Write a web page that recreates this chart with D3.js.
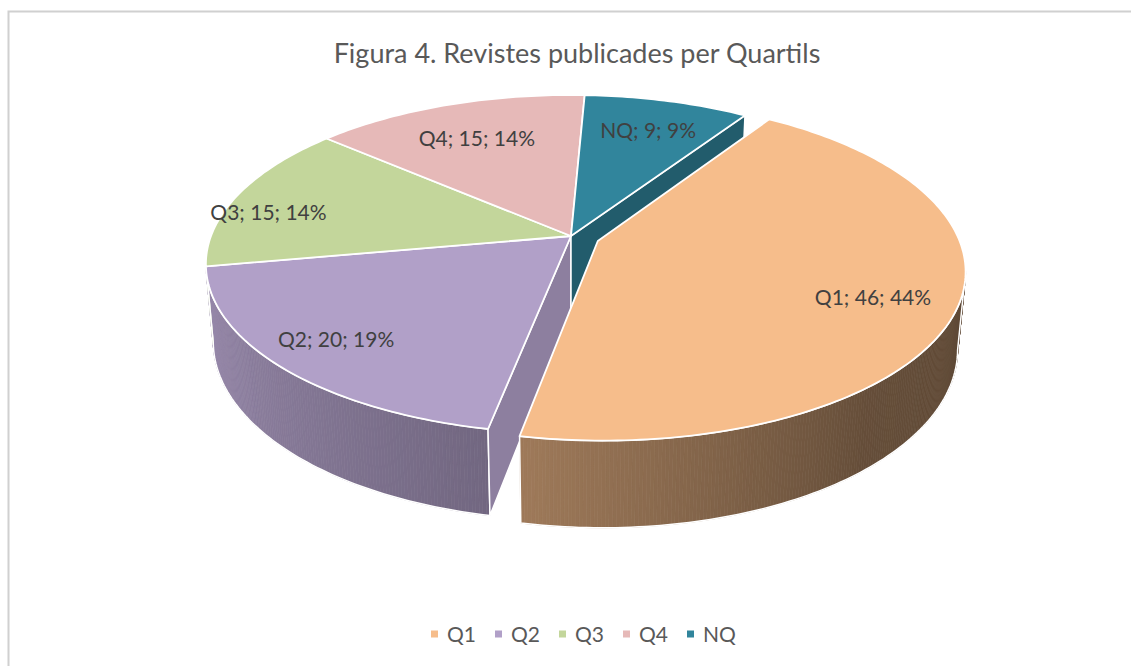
<!DOCTYPE html>
<html>
<head>
<meta charset="utf-8">
<script src="https://cdn.jsdelivr.net/npm/d3@7/dist/d3.min.js"></script>
<style>
  body { margin: 0; background: #fff; }
  text { font-family: Lato, "Open Sans", sans-serif; }
</style>
</head>
<body>
<div class="chart"></div>
<script>
// Figura 4 - 3D pie, revistes per quartil

var names = ["Q1", "Q2", "Q3", "Q4", "NQ"];
var values = [46, 20, 15, 15, 9];
var sliceColors = ["#f6bd8b", "#b1a0c8", "#c3d69b", "#e6b9b8", "#31859c"];
var explodeBy = [0.08, 0, 0, 0, 0];

var svgWidth = 1131;
var svgHeight = 666;

// perspective "camera" for the disc (fitted to the reference)
var view = { cx: 571, cy: 236, a: 360, b: 164.5, c: 78, p: 0.1667, q: 0.02 };
var firstAngle = 33.4 * Math.PI / 180;
var camZ = -1 / view.p;

var svg = d3.select(".chart")
  .append("svg")
  .attr("width", svgWidth)
  .attr("height", svgHeight);

// chart area frame
svg.append("rect")
  .attr("x", 8.5)
  .attr("y", 11.5)
  .attr("width", 1200)
  .attr("height", 700)
  .attr("fill", "none")
  .attr("stroke", "#d0d0d0")
  .attr("stroke-width", 2);

svg.append("text")
  .attr("x", 577)
  .attr("y", 63)
  .attr("text-anchor", "middle")
  .attr("font-size", 27)
  .attr("fill", "#595959")
  .text("Figura 4. Revistes publicades per Quartils");

var total = d3.sum(values);
var data = names.map((n, i) => ({ name: n, value: values[i], explode: explodeBy[i] }));

var pie = d3.pie()
  .sort(null)
  .value(d => d.value)
  .startAngle(firstAngle)
  .endAngle(firstAngle + 2 * Math.PI);

var arcs = pie(data);
arcs.forEach(function (d) {
  d.mid = (d.startAngle + d.endAngle) / 2;
  d.explode = d.data.explode;
  d.ox = d.explode * Math.sin(d.mid);
  d.oz = d.explode * Math.cos(d.mid);
});

var color = d3.scaleOrdinal().domain(names).range(sliceColors);

// brightness of the outer wall by direction of its normal (degrees clockwise from 12h)
var wallShade = d3.scaleLinear()
  .domain([90, 140, 190, 270])
  .range([0.37, 0.41, 0.64, 0.9])
  .clamp(true);

var faceShade = d3.scaleLinear()
  .domain([0.8, 1])
  .range([0.67, 0.81])
  .clamp(true);

function shadeColor(base, k) {
  var c = d3.rgb(base);
  return d3.rgb(c.r * k, c.g * k, c.b * k).formatHex();
}

function project(x, z, hb) {
  var w = 1 + view.p * z + view.q * hb;
  return [view.cx + view.a * x / w, view.cy - (view.b * z - view.c * hb) / w];
}

function discPoint(d, ang, r, hb) {
  return project(d.ox + r * Math.sin(ang), d.oz + r * Math.cos(ang), hb);
}

function arcPoints(d, a0, a1, r, hb) {
  var n = Math.max(2, Math.ceil(Math.abs(a1 - a0) / (Math.PI / 180)));
  var pts = [];
  for (var i = 0; i <= n; i++) pts.push(discPoint(d, a0 + (a1 - a0) * i / n, r, hb));
  return pts;
}

function toDeg(a) {
  var deg = a * 180 / Math.PI;
  return ((deg % 360) + 360) % 360;
}

// outer wall faces the camera?
function facesCamera(d, ang) {
  return (-d.ox) * Math.sin(ang) + (camZ - d.oz) * Math.cos(ang) > 1;
}

var line = d3.line();

function drawWalls(g, d) {
  var n = Math.max(2, Math.ceil((d.endAngle - d.startAngle) / (Math.PI / 360)));
  var quads = [];
  var va0 = null, va1 = null;
  for (var i = 0; i < n; i++) {
    var a0 = d.startAngle + (d.endAngle - d.startAngle) * i / n;
    var a1 = d.startAngle + (d.endAngle - d.startAngle) * (i + 1) / n;
    var am = (a0 + a1) / 2;
    if (!facesCamera(d, am)) continue;
    if (va0 === null) va0 = a0;
    va1 = a1;
    quads.push({
      z: Math.cos(am),
      fill: shadeColor(color(d.data.name), wallShade(toDeg(am))),
      pts: [discPoint(d, a0, 1, 0), discPoint(d, a1, 1, 0), discPoint(d, a1, 1, 1), discPoint(d, a0, 1, 1)]
    });
  }
  if (!quads.length) return;
  quads.sort((u, v) => v.z - u.z);
  g.selectAll(null)
    .data(quads)
    .enter()
    .append("path")
    .attr("d", q => line(q.pts) + "Z")
    .attr("fill", q => q.fill)
    .attr("stroke", q => q.fill)
    .attr("stroke-width", 0.7);

  var top = arcPoints(d, va0, va1, 1, 0);
  var bottom = arcPoints(d, va0, va1, 1, 1).reverse();
  g.append("path")
    .attr("d", line(top.concat(bottom)) + "Z")
    .attr("fill", "none")
    .attr("stroke", "#fff")
    .attr("stroke-width", 1.5)
    .attr("stroke-linejoin", "round");
}

function drawTop(g, d) {
  var pts = [discPoint(d, 0, 0, 0)].concat(arcPoints(d, d.startAngle, d.endAngle, 1, 0));
  g.append("path")
    .attr("d", line(pts) + "Z")
    .attr("fill", color(d.data.name))
    .attr("stroke", "#fff")
    .attr("stroke-width", 1.8)
    .attr("stroke-linejoin", "round");
}

// inner side of a still slice, seen through the gap left by an exploded neighbour
function drawRadialFace(g, d, ang, sign) {
  var nx = sign * Math.cos(ang);
  var nz = -sign * Math.sin(ang);
  if (nz >= 0) return;
  var pts = [discPoint(d, ang, 0, 0), discPoint(d, ang, 1, 0), discPoint(d, ang, 1, 1), discPoint(d, ang, 0, 1)];
  g.append("path")
    .attr("d", line(pts) + "Z")
    .attr("fill", shadeColor(color(d.data.name), faceShade(Math.abs(nx))))
    .attr("stroke", "#fff")
    .attr("stroke-width", 1.5)
    .attr("stroke-linejoin", "round");
}

var pieGroup = svg.append("g");
var still = arcs.filter(d => d.explode === 0);
var moved = arcs.filter(d => d.explode > 0);

still.forEach(d => drawWalls(pieGroup, d));

arcs.forEach(function (d, i) {
  if (d.explode > 0) return;
  var prev = arcs[(i + arcs.length - 1) % arcs.length];
  var next = arcs[(i + 1) % arcs.length];
  if (prev.explode > 0) drawRadialFace(pieGroup, d, d.startAngle, -1);
  if (next.explode > 0) drawRadialFace(pieGroup, d, d.endAngle, 1);
});

still.forEach(d => drawTop(pieGroup, d));
moved.forEach(function (d) {
  drawWalls(pieGroup, d);
  drawTop(pieGroup, d);
});

// data labels: "name; value; pct%"
var labelR = [0.78, 0.81, 0.88, 0.74, 0.78];
var labelTurn = [0.75, 1.6, -4.4, 0, 0];

pieGroup.selectAll(".lbl")
  .data(arcs)
  .enter()
  .append("text")
  .attr("class", "lbl")
  .attr("transform", function (d, i) {
    var p = discPoint(d, d.mid + labelTurn[i] * Math.PI / 180, labelR[i], 0);
    return `translate(${p[0]}, ${p[1]})`;
  })
  .attr("text-anchor", "middle")
  .attr("dy", "0.5em")
  .attr("font-size", 21)
  .attr("fill", "#404040")
  .text(d => `${d.data.name}; ${d.data.value}; ${Math.round(d.data.value / total * 100)}%`);

// legend
var legendX = d3.scaleLinear().domain([0, names.length - 1]).range([431, 687]);

var legend = svg.append("g")
  .selectAll("g")
  .data(names)
  .enter()
  .append("g")
  .attr("transform", (d, i) => `translate(${legendX(i)}, 634)`);

legend.append("rect")
  .attr("x", 0)
  .attr("y", -3.5)
  .attr("width", 7)
  .attr("height", 7)
  .attr("fill", d => color(d));

legend.append("text")
  .attr("x", 16)
  .attr("dy", "0.36em")
  .attr("font-size", 21)
  .attr("fill", "#595959")
  .text(d => d);
</script>
</body>
</html>
